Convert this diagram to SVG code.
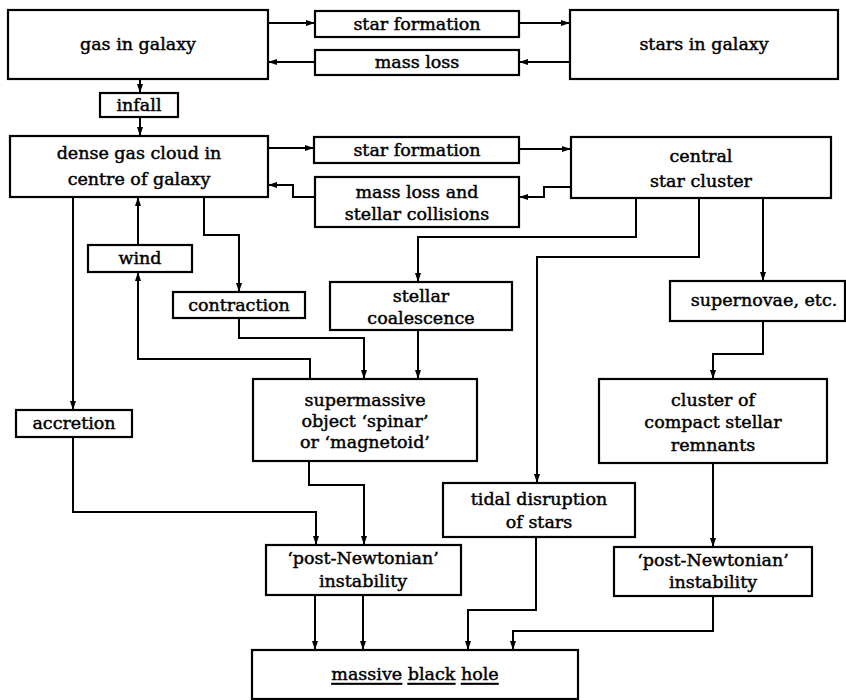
<svg xmlns="http://www.w3.org/2000/svg" width="846" height="700" viewBox="0 0 846 700">
<style>
.box{fill:#fff;stroke:#000;stroke-width:2.2}
.c{fill:none;stroke:#000;stroke-width:2;marker-end:url(#ah)}
text{font-family:"DejaVu Serif","Liberation Serif",serif;font-size:17.5px;font-weight:normal;text-anchor:middle;fill:#000;dominant-baseline:central;stroke:#000;stroke-width:0.45}
</style>
<defs>
<marker id="ah" markerUnits="userSpaceOnUse" markerWidth="9" markerHeight="12" refX="12" refY="4" orient="auto" viewBox="0 0 12 8">
<path d="M0,0 L12,4 L0,8 z" fill="#000"/>
</marker>
</defs>
<rect width="846" height="700" fill="#fff"/>
<g id="connectors">
<path class="c" d="M268,23 H315"/>
<path class="c" d="M519,23 H570"/>
<path class="c" d="M570,62 H519"/>
<path class="c" d="M315,62 H268"/>
<path class="c" d="M140,79 V93"/>
<path class="c" d="M140,117 V136"/>
<path class="c" d="M268,148 H314"/>
<path class="c" d="M519,149 H571"/>
<path class="c" d="M571,187 H544 V197 H519"/>
<path class="c" d="M315,197 H293 V185 H268"/>
<path class="c" d="M138,245 V197"/>
<path class="c" d="M310,379 V359 H138 V272"/>
<path class="c" d="M204,197 V235 H239 V292"/>
<path class="c" d="M239,318 V338 H364 V379"/>
<path class="c" d="M636,198 V237 H418 V282"/>
<path class="c" d="M418,330 V379"/>
<path class="c" d="M73,197 V410"/>
<path class="c" d="M73,437 V512 H316 V545"/>
<path class="c" d="M309,461 V485 H364 V545"/>
<path class="c" d="M763,198 V281"/>
<path class="c" d="M763,321 V354 H713 V379"/>
<path class="c" d="M699,198 V257 H537 V483"/>
<path class="c" d="M713,463 V547"/>
<path class="c" d="M315,595 V650"/>
<path class="c" d="M363,595 V650"/>
<path class="c" d="M536,537 V610 H468 V650"/>
<path class="c" d="M713,596 V631 H513 V650"/>
</g>
<g id="gas"><rect class="box" x="8" y="10" width="260" height="69"/><text x="138" y="44">gas in galaxy</text></g>
<g id="sf1"><rect class="box" x="315" y="11" width="204" height="26"/><text x="417" y="24">star formation</text></g>
<g id="ml1"><rect class="box" x="315" y="50" width="204" height="25"/><text x="417" y="62">mass loss</text></g>
<g id="stars"><rect class="box" x="570" y="10" width="268" height="69"/><text x="704" y="44">stars in galaxy</text></g>
<g id="infall"><rect class="box" x="100" y="93" width="78" height="24"/><text x="139" y="105">infall</text></g>
<g id="dense"><rect class="box" x="10" y="136" width="258" height="61"/><text x="139" y="153">dense gas cloud in</text><text x="139" y="179">centre of galaxy</text></g>
<g id="sf2"><rect class="box" x="314" y="137" width="205" height="26"/><text x="417" y="150">star formation</text></g>
<g id="ml2"><rect class="box" x="315" y="177" width="204" height="50"/><text x="417" y="192">mass loss and</text><text x="417" y="214">stellar collisions</text></g>
<g id="central"><rect class="box" x="571" y="137" width="260" height="61"/><text x="701" y="156">central</text><text x="701" y="181">star cluster</text></g>
<g id="wind"><rect class="box" x="88" y="245" width="104" height="27"/><text x="140" y="258">wind</text></g>
<g id="contraction"><rect class="box" x="173" y="292" width="132" height="26"/><text x="239" y="305">contraction</text></g>
<g id="coalescence"><rect class="box" x="330" y="282" width="182" height="48"/><text x="421" y="296">stellar</text><text x="421" y="318">coalescence</text></g>
<g id="supernovae"><rect class="box" x="670" y="281" width="175" height="40"/><text x="764" y="300">supernovae, etc.</text></g>
<g id="supermassive"><rect class="box" x="253" y="379" width="224" height="82"/><text x="365" y="400">supermassive</text><text x="365" y="421">object ‘spinar’</text><text x="365" y="442">or ‘magnetoid’</text></g>
<g id="cluster"><rect class="box" x="599" y="379" width="228" height="84"/><text x="713" y="400">cluster of</text><text x="713" y="422">compact stellar</text><text x="713" y="445">remnants</text></g>
<g id="accretion"><rect class="box" x="16" y="410" width="116" height="27"/><text x="74" y="423">accretion</text></g>
<g id="tidal"><rect class="box" x="443" y="483" width="192" height="54"/><text x="539" y="499">tidal disruption</text><text x="539" y="522">of stars</text></g>
<g id="postN1"><rect class="box" x="266" y="545" width="195" height="50"/><text x="363" y="558">‘post-Newtonian’</text><text x="363" y="581">instability</text></g>
<g id="postN2"><rect class="box" x="614" y="547" width="198" height="49"/><text x="713" y="560">‘post-Newtonian’</text><text x="713" y="582">instability</text></g>
<g id="mbh"><rect class="box" x="252" y="650" width="326" height="49"/><text x="415" y="674"><tspan text-decoration="underline">massive</tspan> <tspan text-decoration="underline">black</tspan> <tspan text-decoration="underline">hole</tspan></text></g>
</svg>
